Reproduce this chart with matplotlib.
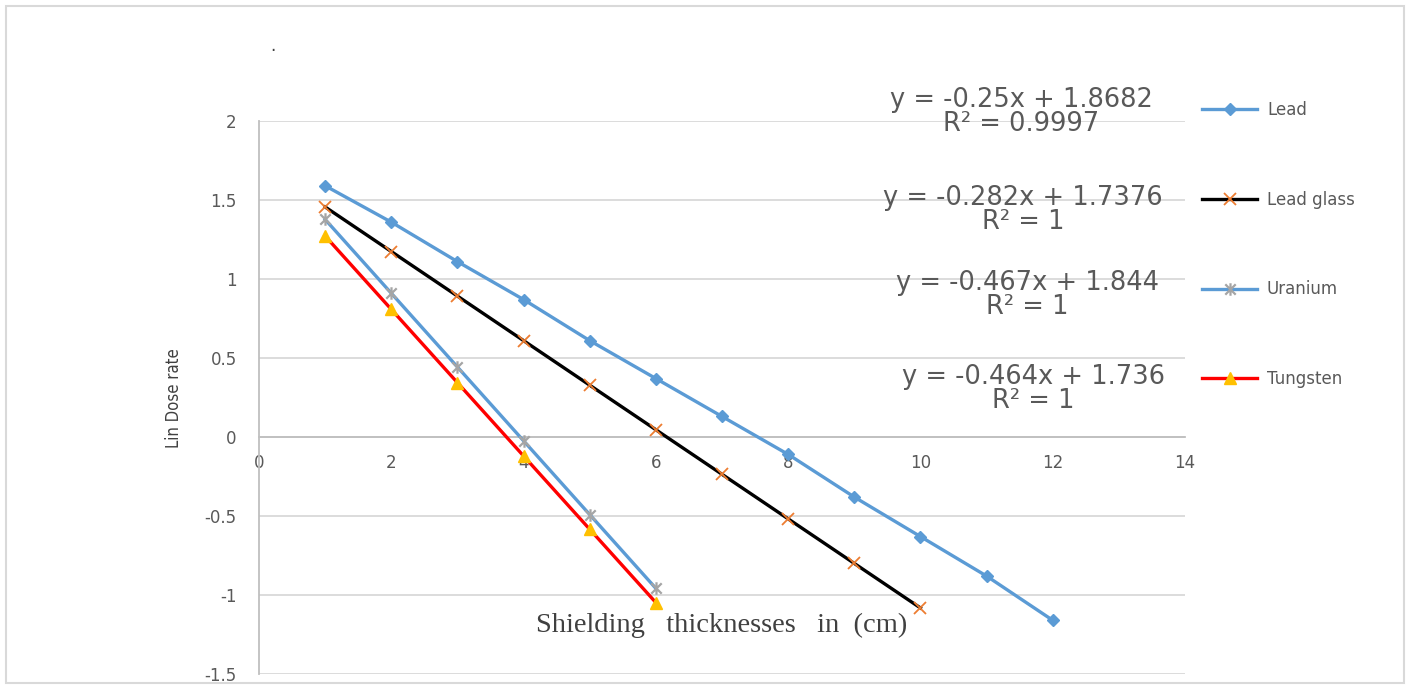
import numpy as np
import matplotlib.pyplot as plt
from matplotlib.patches import Rectangle
from matplotlib.path import Path

# shielding thickness (cm) and ln of dose rate for each material
x_lead = [1, 2, 3, 4, 5, 6, 7, 8, 9, 10, 11, 12]
y_lead = [1.59, 1.36, 1.11, 0.87, 0.61, 0.37, 0.13, -0.11, -0.38, -0.63, -0.88, -1.16]

x_glass = [1, 2, 3, 4, 5, 6, 7, 8, 9, 10]
y_glass = [1.456, 1.174, 0.892, 0.610, 0.328, 0.046, -0.236, -0.518, -0.800, -1.082]

x_uranium = [1, 2, 3, 4, 5, 6]
y_uranium = [1.377, 0.910, 0.443, -0.024, -0.491, -0.958]

x_tungsten = [1, 2, 3, 4, 5, 6]
y_tungsten = [1.272, 0.808, 0.344, -0.120, -0.584, -1.048]

fits = [
    ("y = -0.25x + 1.8682", "R² = 0.9997"),
    ("y = -0.282x + 1.7376", "R² = 1"),
    ("y = -0.467x + 1.844", "R² = 1"),
    ("y = -0.464x + 1.736", "R² = 1"),
]

# asterisk marker: an x with a vertical stroke through it
star = Path([(-1, -1), (1, 1), (-1, 1), (1, -1), (0, -1.2), (0, 1.2)],
            [Path.MOVETO, Path.LINETO] * 3)

fig = plt.figure(figsize=(14.09, 6.85), dpi=100)
ax = fig.add_axes([259 / 1409, 1 - 674 / 685, (1185 - 259) / 1409, (674 - 121) / 685])

# border round the chart area
fig.patches.append(Rectangle((6 / 1409, 2 / 685), 1398 / 1409, 677 / 685,
                             transform=fig.transFigure, fill=False,
                             edgecolor='#d9d9d9', linewidth=1.5))

ax.plot(x_lead, y_lead, color='#5B9BD5', lw=2.4, marker='D', ms=6.5,
        mfc='#5B9BD5', mec='#5B9BD5', label='Lead', zorder=3)
ax.plot(x_glass, y_glass, color='black', lw=2.4, marker='x', ms=9,
        mec='#ED7D31', mew=1.3, label='Lead glass', zorder=3)
ax.plot(x_uranium, y_uranium, color='#5B9BD5', lw=2.4, marker=star, ms=9,
        mec='#A5A5A5', mew=1.6, label='Uranium', zorder=3)
ax.plot(x_tungsten, y_tungsten, color='#FF0000', lw=2.4, marker='^', ms=9,
        mfc='#FFC000', mec='#FFC000', label='Tungsten', zorder=3)

ax.set_xlim(0, 14)
ax.set_ylim(-1.5, 2)
ax.set_xticks(np.arange(0, 15, 2))
ax.set_yticks(np.arange(-1.5, 2.01, 0.5))
ax.set_yticklabels(['-1.5', '-1', '-0.5', '0', '0.5', '1', '1.5', '2'])

ax.grid(axis='y', color='#d9d9d9', lw=1.3)
ax.set_axisbelow(True)
for s in ['top', 'right']:
    ax.spines[s].set_visible(False)
ax.spines['bottom'].set_position(('data', 0))
ax.spines['bottom'].set_color('#bfbfbf')
ax.spines['bottom'].set_linewidth(1.3)
ax.spines['left'].set_color('#bfbfbf')
ax.spines['left'].set_linewidth(1.3)
ax.tick_params(length=0, labelsize=12, colors='#595959')
ax.tick_params(axis='x', pad=12)
ax.tick_params(axis='y', pad=16)

ax.text(7.0, -1.195, "Shielding   thicknesses   in  (cm)", ha='center', va='center',
        fontsize=20.5, family='Liberation Serif', color='#404040')
fig.text(174 / 1409, 1 - 398 / 685, "Lin Dose rate", rotation=90, ha='center',
         va='center', fontsize=12, color='#404040', family='DejaVu Sans',
         stretch='condensed')
fig.text(273 / 1409, 1 - 46 / 685, ".", ha='center', va='center', fontsize=12,
         color='#404040')

# trendline equations
eq_pos = [(1021, 100), (1023, 198), (1027, 283), (1033, 377)]
for (eq, r2), (px, py) in zip(fits, eq_pos):
    fig.text(px / 1409, 1 - py / 685, eq, ha='center', va='center',
             fontsize=18.5, color='#595959')
    fig.text(px / 1409, 1 - (py + 24) / 685, r2, ha='center', va='center',
             fontsize=18.5, color='#595959')

fig.legend(loc='upper left', bbox_to_anchor=(1187 / 1409, 1 - 86 / 685),
           frameon=False, fontsize=12, labelspacing=4.3, handlelength=3.3,
           handletextpad=0.6, labelcolor='#595959')

fig.savefig('out.png', dpi=100)
